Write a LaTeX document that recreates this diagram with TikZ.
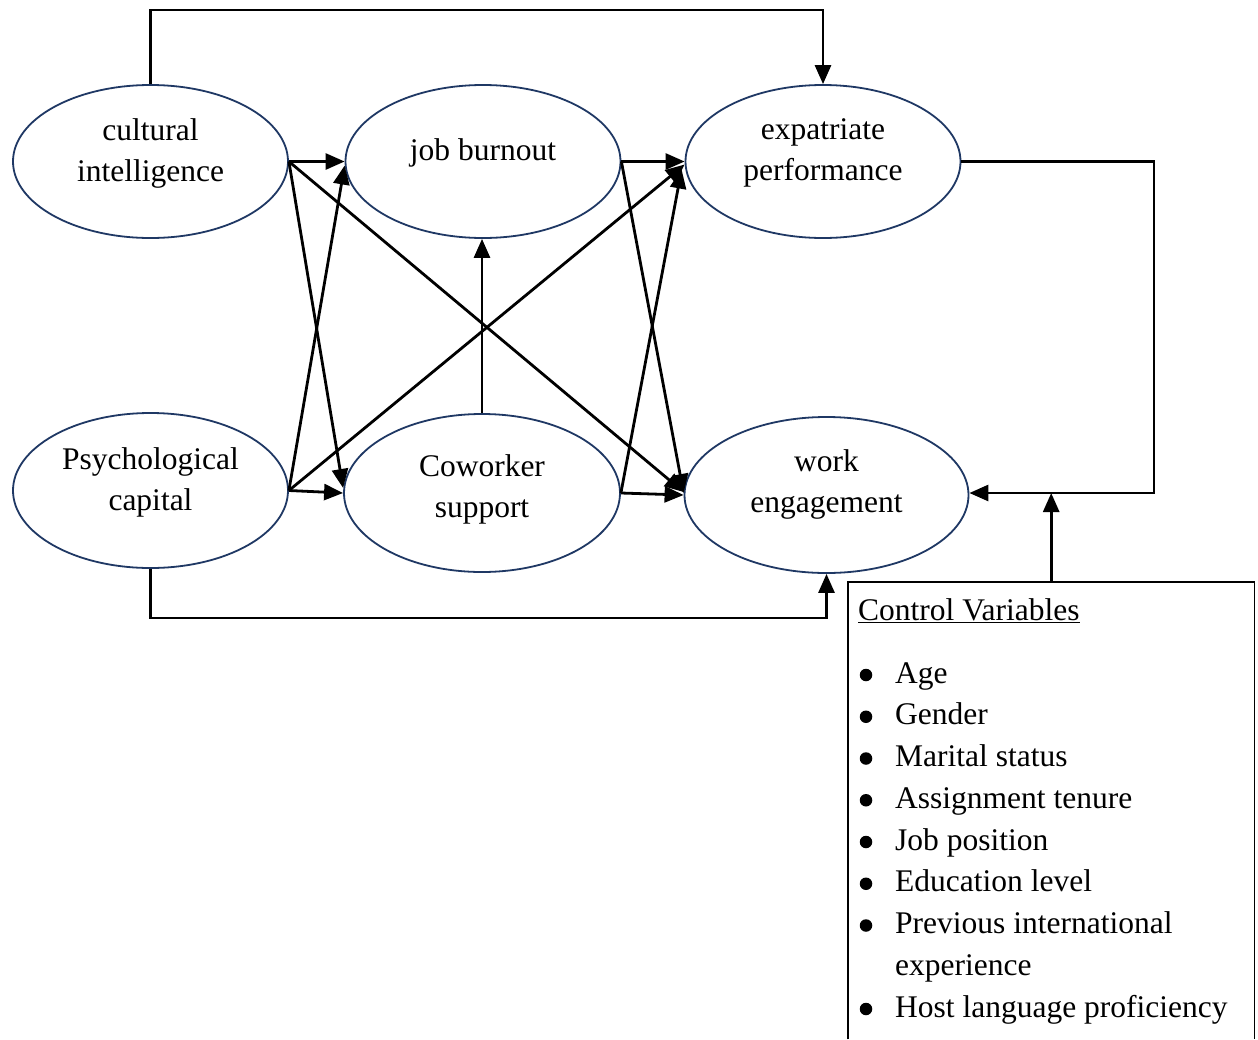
\documentclass[tikz,border=0pt]{standalone}
\usepackage{fontspec}
\setmainfont{Liberation Serif}
\usetikzlibrary{arrows.meta,shapes.geometric}
\definecolor{navy}{HTML}{1F3864}
\begin{document}
\begin{tikzpicture}[x=1pt,y=-1pt,
  ell/.style={ellipse, draw=navy, line width=1.8pt, inner sep=0pt, minimum width=275pt, minimum height=153pt},
  lbl/.style={align=center, font=\fontsize{31.5}{41}\selectfont, inner sep=0pt},
  conn/.style={line width=2.8pt, draw=black},
  arr/.style={conn, -{Triangle[length=19pt,width=16pt]}},
  item/.style={anchor=base west, inner sep=0pt, font=\fontsize{31.5}{41}\selectfont},
  bulletdot/.style={circle, fill=black, inner sep=0pt, minimum size=12.5pt}]
\useasboundingbox (0,0) rectangle (1258,1039);
\fill[white] (0,0) rectangle (1258,1039);

% ellipses
\node[ell] (ci) at (150.5,161.5) {};
\node[ell] (jb) at (483,161.5) {};
\node[ell] (ep) at (823,161.5) {};
\node[ell, minimum height=155pt] (pc) at (150.5,490.5) {};
\node[ell, minimum width=276pt, minimum height=158pt] (cs) at (482,493) {};
\node[ell, minimum width=284pt, minimum height=156pt] (we) at (826.5,495) {};

% labels
\node[lbl] (cit) at (150.5,153) {cultural\\intelligence};
\node[lbl] (jbt) at (483,153) {job burnout};
\node[lbl] (ept) at (823,153) {expatriate\\performance};
\node[lbl] (pct) at (150.5,482) {Psychological\\capital};
\node[lbl] (cst) at (482,489) {Coworker\\support};
\node[lbl] (wet) at (826.5,484) {work\\engagement};

% control variables box
\node[anchor=north west, inner sep=0pt, minimum width=406pt, minimum height=457pt] (cv) at (848,582) {};
\draw[line width=1.3pt] (cv.south west) -- (cv.north west) -- (cv.north east) -- (cv.south east);
\node[item] (cvh) at (858,620) {\underline{Control Variables}};
\foreach \yy/\txt [count=\i] in {683/Age, 724.75/Gender, 766.5/Marital status, 808.25/Assignment tenure, 850/Job position, 891.75/Education level, 933.5/Previous international, 1017/Host language proficiency}{
  \node[bulletdot] (bul\i) at (866,\yy-8) {};
  \node[item] (itm\i) at (895,\yy) {\txt};
}
\node[item] (itm7b) at (895,975.25) {experience};

% connectors
\coordinate (topy) at (0,10);
\coordinate (boty) at (0,618);
\coordinate (rc) at (1154,493);
\draw[arr] (ci.north) -- (ci.north |- topy) -| (ep.north);
\draw[arr] (pc.south) -- (pc.south |- boty) -| (we.south);
\draw[arr] (ep.east) -| (rc) -- (we.east |- rc);
\draw[arr] (cv.north) -- (cv.north |- rc);

\draw[arr] (ci.east) -- (jb.west);
\draw[arr] (ci.east) -- ([yshift=5pt]cs.west);
\draw[arr] (ci.east) -- ([yshift=3pt]we.west);
\draw[arr] (pc.east) -- ([yshift=-4pt]jb.west);
\draw[arr] (pc.east) -- (cs.west);
\draw[arr] (pc.east) -- ([yshift=-3pt]ep.west);
\draw[arr] (cs.north) -- (cs.north |- jb.south);
\draw[arr] (jb.east) -- (ep.west);
\draw[arr] (jb.east) -- ([yshift=2pt]we.west);
\draw[arr] (cs.east) -- ([xshift=-3pt,yshift=-8pt]ep.west);
\draw[arr] (cs.east) -- (we.west);
\end{tikzpicture}
\end{document}
